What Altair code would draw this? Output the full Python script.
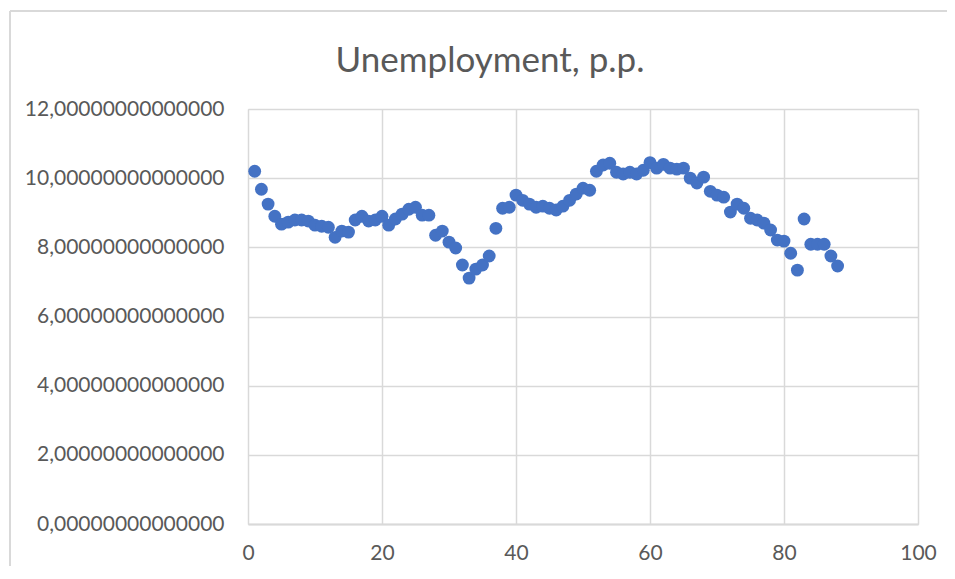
import altair as alt
import pandas as pd

periods = list(range(1, 89))
unemployment = [
    10.20, 9.68, 9.25, 8.90, 8.67, 8.73, 8.79, 8.79, 8.76, 8.64,
    8.61, 8.58, 8.29, 8.47, 8.44, 8.79, 8.90, 8.76, 8.79, 8.90,
    8.64, 8.82, 8.96, 9.10, 9.16, 8.93, 8.93, 8.35, 8.47, 8.15,
    7.98, 7.49, 7.11, 7.37, 7.49, 7.75, 8.55, 9.13, 9.16, 9.51,
    9.36, 9.25, 9.16, 9.19, 9.13, 9.08, 9.19, 9.36, 9.54, 9.71,
    9.65, 10.20, 10.38, 10.43, 10.17, 10.12, 10.17, 10.12, 10.23, 10.45,
    10.29, 10.40, 10.29, 10.26, 10.29, 10.00, 9.86, 10.03, 9.62, 9.51,
    9.45, 9.02, 9.25, 9.13, 8.84, 8.79, 8.70, 8.50, 8.21, 8.18,
    7.83, 7.34, 8.82, 8.09, 8.09, 8.09, 7.75, 7.46,
]
x_ticks = [0, 20, 40, 60, 80, 100]
y_ticks = [0, 2, 4, 6, 8, 10, 12]
chart_title = "Unemployment, p.p."

df = pd.DataFrame({"period": periods, "value": unemployment})

FONT = "Lato"
GRAY = "#595959"
GRID = "#d9d9d9"

points = alt.Chart(df).mark_circle(size=165, opacity=1, color="#4472c4").encode(
    x=alt.X("period:Q",
            scale=alt.Scale(domain=[0, 100], nice=False),
            axis=alt.Axis(values=x_ticks, title=None, grid=True, gridColor=GRID,
                          gridWidth=1.5, domainColor=GRID, domainWidth=2, ticks=False,
                          labelFont=FONT, labelFontSize=21, labelColor=GRAY,
                          labelPadding=18, labelFlush=False)),
    y=alt.Y("value:Q",
            scale=alt.Scale(domain=[0, 12], nice=False),
            axis=alt.Axis(values=y_ticks, title=None, grid=True, gridColor=GRID,
                          gridWidth=1.5, domain=False, ticks=False,
                          labelFont=FONT, labelFontSize=21, labelColor=GRAY,
                          labelPadding=24, labelLimit=400,
                          labelExpr="replace(format(datum.value, '.14f'), '.', ',')")),
)

title_df = pd.DataFrame({"t": [chart_title]})
title = alt.Chart(title_df).mark_text(
    font=FONT, fontSize=35, color=GRAY, align="center", baseline="alphabetic"
).encode(text="t:N", x=alt.value(242), y=alt.value(-37))

frame_top = alt.Chart(title_df).mark_rule(color=GRID, strokeWidth=2).encode(
    x=alt.value(-238), x2=alt.value(699), y=alt.value(-98))
frame_left = alt.Chart(title_df).mark_rule(color=GRID, strokeWidth=2).encode(
    x=alt.value(-238), y=alt.value(-98), y2=alt.value(457))

chart = alt.layer(frame_top, frame_left, title, points).properties(
    width=670, height=415,
    autosize=alt.AutoSizeParams(type="none"),
    padding={"left": 240, "top": 101, "right": 29, "bottom": 42},
).configure_view(stroke=None).configure(background="white")

chart.save("out.html", embed_options={"renderer": "svg", "actions": False})
